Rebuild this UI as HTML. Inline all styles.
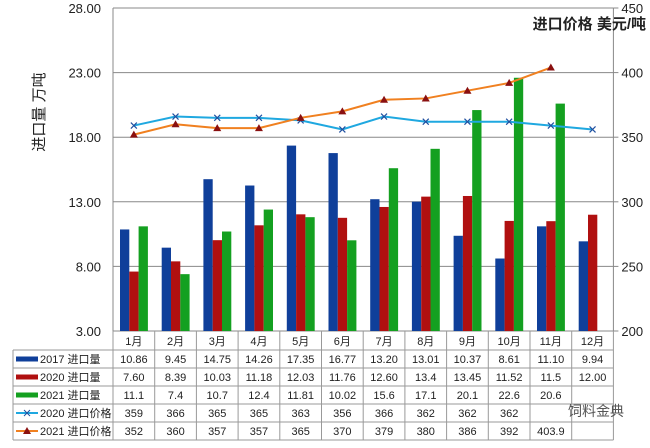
<!DOCTYPE html>
<html><head><meta charset="utf-8"><style>
body{margin:0;background:#fff;}
svg text{font-family:"Liberation Sans","Noto Sans CJK SC",sans-serif;}
</style></head><body>
<svg width="650" height="443" xmlns="http://www.w3.org/2000/svg" id="s"></svg>
<script>
(function(){
const s=document.getElementById('s');
const L=113,W=41.7,R=L+12*W;
const y=v=>331-(v-3)*12.92;
const yp=v=>331-(v-200)*1.292;
const d17=[10.86,9.45,14.75,14.26,17.35,16.77,13.20,13.01,10.37,8.61,11.10,9.94];
const d20=[7.60,8.39,10.03,11.18,12.03,11.76,12.60,13.4,13.45,11.52,11.5,12.00];
const d21=[11.1,7.4,10.7,12.4,11.81,10.02,15.6,17.1,20.1,22.6,20.6,null];
const p20=[359,366,365,365,363,356,366,362,362,362,359,356];
const p21=[352,360,357,357,365,370,379,380,386,392,403.9];
let h='';
[28,23,18,13,8,3].forEach(v=>{h+=`<line x1="${L}" x2="${R}" y1="${y(v)}" y2="${y(v)}" stroke="#888" stroke-width="1"/>`;
h+=`<text x="${L-12}" y="${y(v)+5}" font-size="13" text-anchor="end" fill="#222">${v.toFixed(2)}</text>`;});
[450,400,350,300,250,200].forEach(v=>{h+=`<line x1="${R}" x2="${R+5}" y1="${yp(v)}" y2="${yp(v)}" stroke="#888"/>`;
h+=`<text x="${R+8}" y="${yp(v)+5}" font-size="13" fill="#222">${v}</text>`;});
h+=`<line x1="${L}" x2="${L}" y1="8" y2="331" stroke="#888"/><line x1="${R}" x2="${R}" y1="8" y2="331" stroke="#888"/>`;
const bw=9.3;
for(let i=0;i<12;i++){const x0=L+i*W+7;
[[d17,'#0f3f9a'],[d20,'#b01010'],[d21,'#14a020']].forEach((a,k)=>{const v=a[0][i];if(v==null)return;
h+=`<rect x="${x0+k*bw}" y="${y(v)}" width="${bw}" height="${331-y(v)}" fill="${a[1]}"/>`;});}
const cx=i=>L+(i+0.5)*W;
h+=`<polyline fill="none" stroke="#1fa8e0" stroke-width="2" points="${p20.map((v,i)=>cx(i)+','+yp(v)).join(' ')}"/>`;
p20.forEach((v,i)=>{const a=cx(i),b=yp(v);h+=`<path d="M${a-3} ${b-3}L${a+3} ${b+3}M${a-3} ${b+3}L${a+3} ${b-3}" stroke="#2050a0" stroke-width="1.2"/>`;});
h+=`<polyline fill="none" stroke="#f08020" stroke-width="2" points="${p21.map((v,i)=>cx(i)+','+yp(v)).join(' ')}"/>`;
p21.forEach((v,i)=>{const a=cx(i),b=yp(v);h+=`<path d="M${a} ${b-4}L${a+4} ${b+3}L${a-4} ${b+3}Z" fill="#8a1010"/>`;});
h+=`<text transform="translate(44,112) rotate(-90)" font-size="15" text-anchor="middle" fill="#222">进口量  万吨</text>`;
h+=`<text x="646" y="29" font-size="15" font-weight="bold" text-anchor="end" fill="#222">进口价格  美元/吨</text>`;
const rows=[[null,'2017 进口量',d17.map(v=>v.toFixed(2)),'#0f3f9a'],
[null,'2020 进口量',['7.60','8.39','10.03','11.18','12.03','11.76','12.60','13.4','13.45','11.52','11.5','12.00'],'#b01010'],
[null,'2021 进口量',['11.1','7.4','10.7','12.4','11.81','10.02','15.6','17.1','20.1','22.6','20.6',''],'#14a020'],
['x','2020 进口价格',p20.map(String).slice(0,10).concat(['','']),'#1fa8e0'],
['t','2021 进口价格',p21.map(String).concat(['']),'#f08020']];
const T0=331,rh=18;
for(let i=0;i<12;i++){h+=`<text x="${cx(i)}" y="${T0+14}" font-size="11" text-anchor="middle" fill="#222">${i+1}月</text>`;}
for(let i=0;i<=12;i++){const x=L+i*W;h+=`<line x1="${x}" x2="${x}" y1="${T0}" y2="${T0+19+5*rh}" stroke="#999"/>`;}
h+=`<line x1="13" x2="13" y1="${T0+19}" y2="${T0+19+5*rh}" stroke="#999"/>`;
rows.forEach((r,j)=>{const ty=T0+19+j*rh;
h+=`<line x1="13" x2="${R}" y1="${ty}" y2="${ty}" stroke="#999"/>`;
h+=`<line x1="16" x2="38" y1="${ty+9}" y2="${ty+9}" stroke="${r[3]}" stroke-width="${r[0]?2:5}"/>`;
if(r[0]=='x')h+=`<path d="M24 ${ty+6}L30 ${ty+12}M24 ${ty+12}L30 ${ty+6}" stroke="#2050a0"/>`;
if(r[0]=='t')h+=`<path d="M27 ${ty+5}L31 ${ty+12}L23 ${ty+12}Z" fill="#8a1010"/>`;
h+=`<text x="40" y="${ty+13}" font-size="11" fill="#222">${r[1]}</text>`;
r[2].forEach((t,i)=>{h+=`<text x="${cx(i)}" y="${ty+13}" font-size="11" text-anchor="middle" fill="#222">${t}</text>`;});});
h+=`<line x1="13" x2="${R}" y1="${T0+19+5*rh}" y2="${T0+19+5*rh}" stroke="#999"/>`;
h+=`<text x="596" y="${T0+19+3*rh+12}" font-size="14" text-anchor="middle" fill="#555">饲料金典</text>`;
s.innerHTML=h;
})();
</script>
</body></html>
